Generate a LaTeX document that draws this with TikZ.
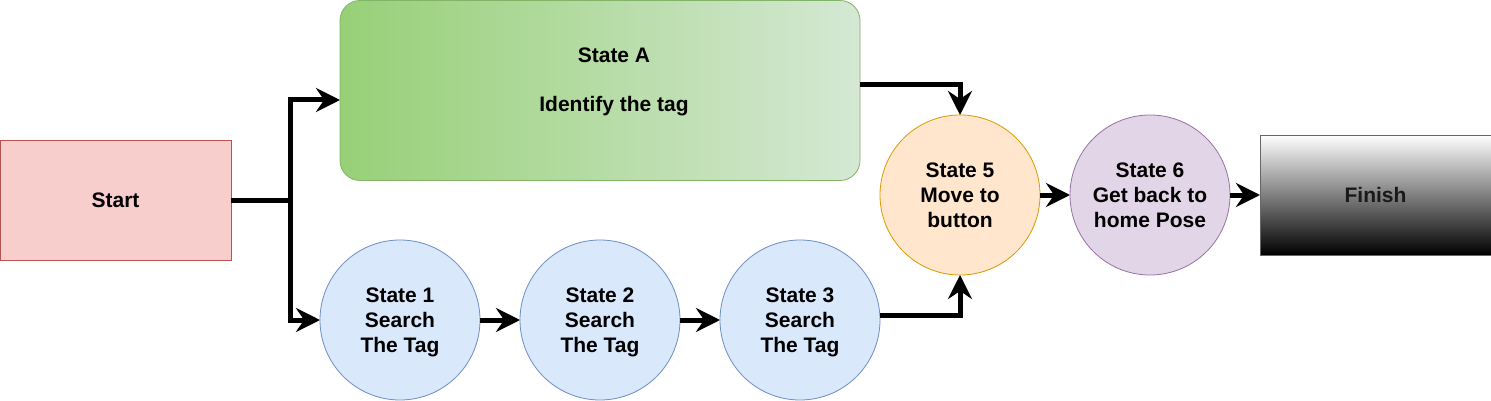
\documentclass[tikz,border=0pt]{standalone}
\usepackage{fontspec}
\setmainfont{Liberation Sans}
\usetikzlibrary{arrows.meta,shapes.geometric}
\definecolor{startfill}{HTML}{F8CECC}
\definecolor{startdraw}{HTML}{B85450}
\definecolor{agreenL}{HTML}{97D077}
\definecolor{agreenR}{HTML}{D5E8D4}
\definecolor{agreenD}{HTML}{82B366}
\definecolor{bluefill}{HTML}{DAE8FC}
\definecolor{bluedraw}{HTML}{6C8EBF}
\definecolor{orfill}{HTML}{FFE6CC}
\definecolor{ordraw}{HTML}{D79B00}
\definecolor{purfill}{HTML}{E1D5E7}
\definecolor{purdraw}{HTML}{9673A6}
\definecolor{findraw}{HTML}{666666}
\tikzset{
  lbl/.style={font=\bfseries\fontsize{21}{25}\selectfont, align=center, text=black},
  statecirc/.style={circle, minimum size=160pt, inner sep=0pt, outer sep=0pt, line width=0.8pt, lbl, text depth=0pt},
  conn/.style={line width=5pt, -{Stealth[length=24pt,width=24pt,inset=8pt]}},
}
\begin{document}
\begin{tikzpicture}[x=1pt,y=-1pt]
\useasboundingbox (0,0) rectangle (1491,401);
\node[rectangle, minimum width=231pt, minimum height=120pt, inner sep=0pt, outer sep=0pt, fill=startfill, draw=startdraw, line width=0.8pt, lbl] (start) at (115.5,200) {Start};
\node[rectangle, rounded corners=20pt, minimum width=520pt, minimum height=180pt, inner sep=0pt, outer sep=0pt, left color=agreenL, right color=agreenR, draw=agreenD, line width=0.8pt] (stateA) at (600,90.5) {};
\node[lbl] (atext) at (614,81.5) {State A\\[24pt]Identify the tag};
\node[statecirc, fill=bluefill, draw=bluedraw] (s1) at (400,320) {State 1\\Search\\The Tag};
\node[statecirc, fill=bluefill, draw=bluedraw] (s2) at (600,320) {State 2\\Search\\The Tag};
\node[statecirc, fill=bluefill, draw=bluedraw] (s3) at (800,320) {State 3\\Search\\The Tag};
\node[statecirc, fill=orfill, draw=ordraw] (s5) at (960,195) {State 5\\Move to\\button};
\node[statecirc, fill=purfill, draw=purdraw] (s6) at (1150,195) {State 6\\Get back to\\home Pose};
\node[rectangle, minimum width=231pt, minimum height=120pt, inner sep=0pt, outer sep=0pt, top color=white, bottom color=black, draw=findraw, line width=0.8pt, lbl, text=black!90] (finish) at (1375.5,195) {Finish};
\coordinate (j) at (290,200);
\coordinate (aIn) at (340,100);
\coordinate (aOut) at (860,85);
\coordinate (s3out) at (880,315);
\draw[conn] (start.east) -- (j) |- (aIn);
\draw[conn] (j) |- (s1.west);
\draw[conn] (s1) -- (s2);
\draw[conn] (s2) -- (s3);
\draw[conn] (s3out) -| (s5.south);
\draw[conn] (aOut) -| (s5.north);
\draw[conn] (s5) -- (s6);
\draw[conn] (s6) -- (finish);
\end{tikzpicture}
\end{document}
